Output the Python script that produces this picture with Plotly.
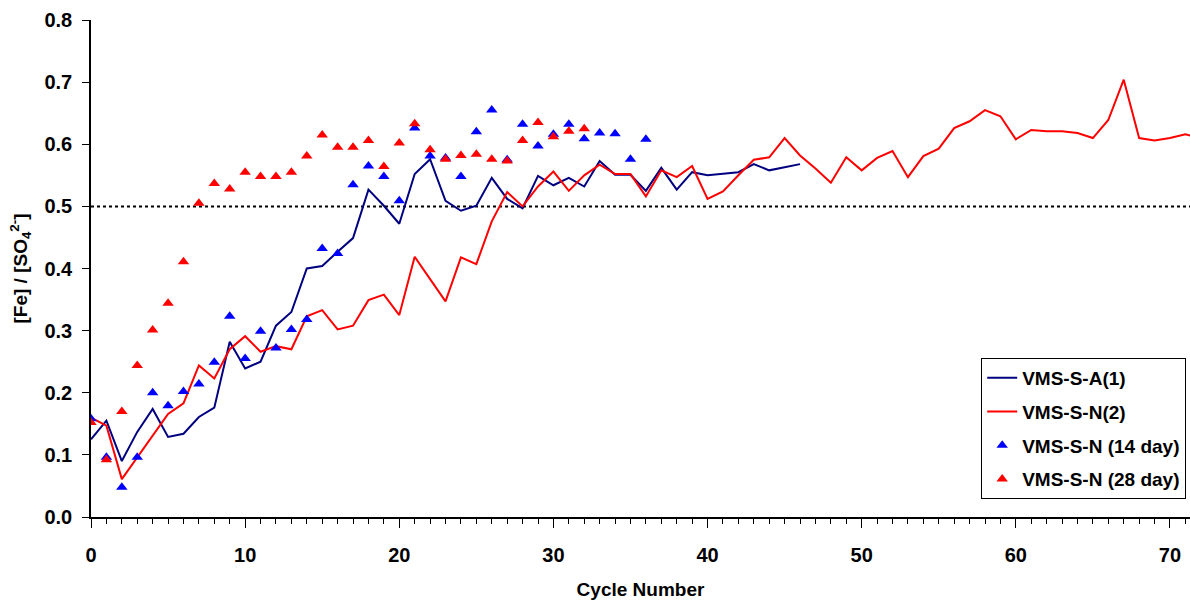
import plotly.graph_objects as go

# [Fe]/[SO4] ratio per cycle
cycles_a1 = list(range(0, 47))
ratio_a1 = [0.125, 0.155, 0.090, 0.137, 0.174, 0.129, 0.134, 0.161, 0.176, 0.282,
            0.239, 0.250, 0.308, 0.330, 0.400, 0.404, 0.427, 0.449, 0.527, 0.501,
            0.472, 0.552, 0.576, 0.509, 0.493, 0.501, 0.546, 0.512, 0.497, 0.549,
            0.534, 0.546, 0.532, 0.573, 0.551, 0.551, 0.525, 0.562, 0.527, 0.555,
            0.550, 0.553, 0.555, 0.568, 0.558, 0.563, 0.568]

cycles_n2 = list(range(0, 73))
ratio_n2 = [0.160, 0.147, 0.061, 0.096, 0.129, 0.166, 0.183, 0.244, 0.223, 0.270,
            0.291, 0.266, 0.275, 0.270, 0.323, 0.333, 0.302, 0.308, 0.349, 0.358,
            0.325, 0.419, 0.383, 0.347, 0.418, 0.407, 0.476, 0.523, 0.500, 0.532,
            0.556, 0.525, 0.550, 0.567, 0.552, 0.552, 0.516, 0.558, 0.547, 0.565,
            0.512, 0.524, 0.550, 0.575, 0.579, 0.610, 0.582, 0.561, 0.538, 0.579,
            0.558, 0.578, 0.589, 0.547, 0.581, 0.593, 0.626, 0.637, 0.655, 0.645,
            0.608, 0.623, 0.621, 0.621, 0.618, 0.610, 0.639, 0.704, 0.610, 0.606,
            0.610, 0.616, 0.610]

cycles_14d = list(range(0, 37))
ratio_14d = [0.158, 0.096, 0.048, 0.096, 0.200, 0.179, 0.202, 0.214, 0.249, 0.323,
             0.255, 0.299, 0.272, 0.302, 0.318, 0.432, 0.424, 0.535, 0.565, 0.548,
             0.509, 0.626, 0.581, 0.578, 0.548, 0.620, 0.655, 0.575, 0.632, 0.597,
             0.616, 0.632, 0.609, 0.618, 0.617, 0.576, 0.608]

cycles_28d = list(range(0, 33))
ratio_28d = [0.152, 0.092, 0.170, 0.244, 0.301, 0.344, 0.411, 0.505, 0.537, 0.528,
             0.555, 0.548, 0.548, 0.555, 0.581, 0.615, 0.595, 0.595, 0.606, 0.564,
             0.602, 0.633, 0.591, 0.576, 0.582, 0.584, 0.576, 0.573, 0.606, 0.635,
             0.612, 0.621, 0.625]

THRESHOLD = 0.5

FONT = "Liberation Sans, Arial, sans-serif"

fig = go.Figure()

fig.add_trace(go.Scatter(x=cycles_a1, y=ratio_a1, mode="lines", name="VMS-S-A(1)",
                         legendgroup="a", line=dict(color="#000080", width=2)))
fig.add_trace(go.Scatter(x=cycles_n2, y=ratio_n2, mode="lines", name="VMS-S-N(2)",
                         legendgroup="b", line=dict(color="#FF0000", width=2)))
fig.add_trace(go.Scatter(x=cycles_14d, y=ratio_14d, mode="markers", name="VMS-S-N (14 day)",
                         legendgroup="c",
                         marker=dict(symbol="triangle-up", size=10, color="#0000FF")))
fig.add_trace(go.Scatter(x=cycles_28d, y=ratio_28d, mode="markers", name="VMS-S-N (28 day)",
                         legendgroup="d",
                         marker=dict(symbol="triangle-up", size=10, color="#FF0000")))

fig.add_hline(y=THRESHOLD, line=dict(color="black", width=2, dash="dot"), layer="below")

fig.update_layout(
    width=1190, height=601,
    margin=dict(l=91, r=0, t=20, b=84),
    plot_bgcolor="white", paper_bgcolor="white",
    font=dict(family=FONT, size=19, color="black", weight="bold"),
    legend=dict(x=0.81, y=0.32, xanchor="left", yanchor="top",
                bordercolor="black", borderwidth=1, bgcolor="white",
                tracegroupgap=6,
                font=dict(family=FONT, size=19, color="black", weight="bold")),
    xaxis=dict(range=[0, 71.3], dtick=10, tick0=0, showgrid=False, zeroline=False,
               automargin=False,
               showline=True, linecolor="black", linewidth=1.5,
               ticks="outside", ticklen=9, tickwidth=1.2, tickcolor="black",
               ticklabelstandoff=10,
               minor=dict(dtick=1, ticks="outside", ticklen=5, tickcolor="black", tickwidth=1),
               title=dict(text="Cycle Number", standoff=18,
                          font=dict(family=FONT, size=19, weight="bold")),
               tickfont=dict(family=FONT, size=20, weight="bold")),
    yaxis=dict(range=[0, 0.8], dtick=0.1, tickformat=".1f", showgrid=False, zeroline=False,
               automargin=False,
               showline=True, linecolor="black", linewidth=1.5,
               ticks="outside", ticklen=7, tickwidth=1.2, tickcolor="black",
               ticklabelstandoff=6,
               title=dict(text="[Fe] / [SO<sub>4</sub><sup>2-</sup>]", standoff=12,
                          font=dict(family=FONT, size=19, weight="bold")),
               tickfont=dict(family=FONT, size=20, weight="bold")),
)

# drop the browser's default 8px body margin so the figure sits at the page corner
fig.write_html("out.html", config={"displayModeBar": False},
               post_script="document.body.style.margin='0';")
